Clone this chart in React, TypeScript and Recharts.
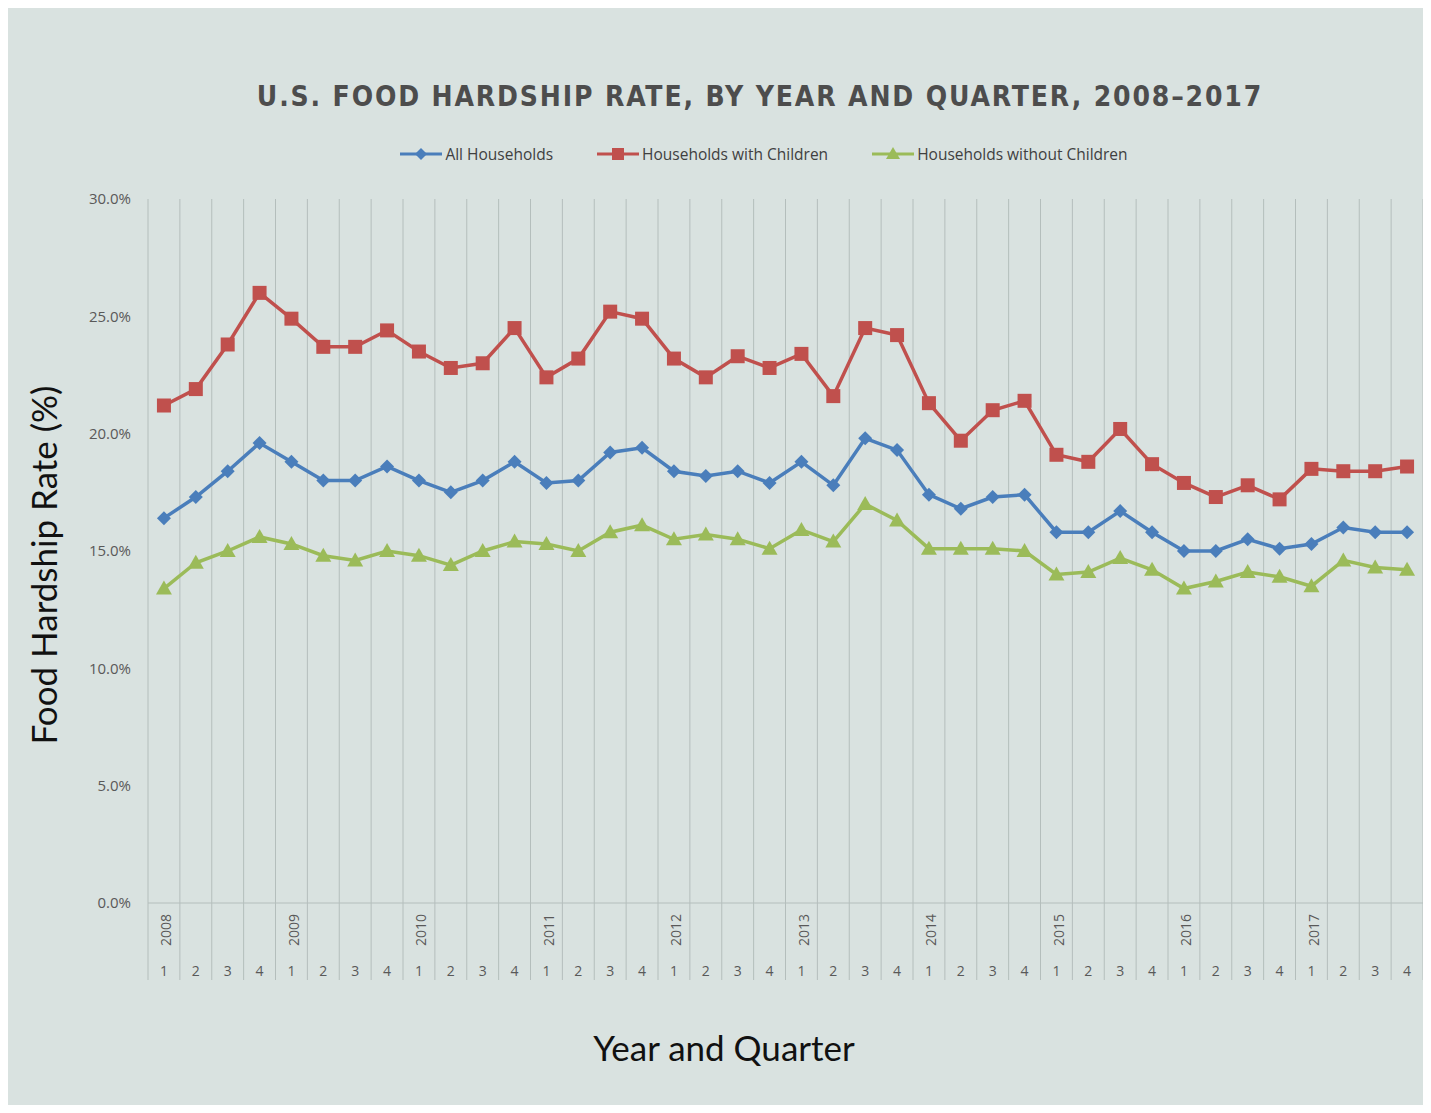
import { ComposedChart, Line, XAxis, YAxis, CartesianGrid } from 'recharts'

const YEARS = ['2008', '2009', '2010', '2011', '2012', '2013', '2014', '2015', '2016', '2017']
const QUARTERS = ['1', '2', '3', '4']

// food hardship rate in %, one value per quarter 2008 Q1 .. 2017 Q4
const ALL_HOUSEHOLDS = [
  16.4, 17.3, 18.4, 19.6,
  18.8, 18.0, 18.0, 18.6,
  18.0, 17.5, 18.0, 18.8,
  17.9, 18.0, 19.2, 19.4,
  18.4, 18.2, 18.4, 17.9,
  18.8, 17.8, 19.8, 19.3,
  17.4, 16.8, 17.3, 17.4,
  15.8, 15.8, 16.7, 15.8,
  15.0, 15.0, 15.5, 15.1,
  15.3, 16.0, 15.8, 15.8,
]
const WITH_CHILDREN = [
  21.2, 21.9, 23.8, 26.0,
  24.9, 23.7, 23.7, 24.4,
  23.5, 22.8, 23.0, 24.5,
  22.4, 23.2, 25.2, 24.9,
  23.2, 22.4, 23.3, 22.8,
  23.4, 21.6, 24.5, 24.2,
  21.3, 19.7, 21.0, 21.4,
  19.1, 18.8, 20.2, 18.7,
  17.9, 17.3, 17.8, 17.2,
  18.5, 18.4, 18.4, 18.6,
]
const WITHOUT_CHILDREN = [
  13.4, 14.5, 15.0, 15.6,
  15.3, 14.8, 14.6, 15.0,
  14.8, 14.4, 15.0, 15.4,
  15.3, 15.0, 15.8, 16.1,
  15.5, 15.7, 15.5, 15.1,
  15.9, 15.4, 17.0, 16.3,
  15.1, 15.1, 15.1, 15.0,
  14.0, 14.1, 14.7, 14.2,
  13.4, 13.7, 14.1, 13.9,
  13.5, 14.6, 14.3, 14.2,
]
const Y_TICKS = [0, 5, 10, 15, 20, 25, 30]

const BLUE = '#4a7ebb'
const RED = '#c0504d'
const GREEN = '#9bbb59'
const GRID = '#b4bebc'
const BG = '#d9e2e0'

const W = 1423
const H = 1105
const MARGIN = { top: 191, right: 8, left: 60, bottom: 120 }
const Y_AXIS_W = 80
const BAND = (W - MARGIN.left - Y_AXIS_W - MARGIN.right) / (YEARS.length * QUARTERS.length)

const data = YEARS.flatMap((year, yi) =>
  QUARTERS.map((quarter, qi) => {
    const i = yi * 4 + qi
    return {
      key: `${year}-${quarter}`,
      year,
      quarter,
      all: ALL_HOUSEHOLDS[i],
      withKids: WITH_CHILDREN[i],
      withoutKids: WITHOUT_CHILDREN[i],
    }
  })
)

const tickFont = "'Open Sans', sans-serif"

function Diamond(p: any) {
  const { cx, cy, index } = p
  if (cx == null || cy == null) return <g key={index} />
  const r = 7
  return <path key={index} d={`M${cx},${cy - r}L${cx + r},${cy}L${cx},${cy + r}L${cx - r},${cy}Z`} fill={BLUE} />
}

function Square(p: any) {
  const { cx, cy, index } = p
  if (cx == null || cy == null) return <g key={index} />
  const s = 7
  return <rect key={index} x={cx - s} y={cy - s} width={s * 2} height={s * 2} fill={RED} />
}

function Triangle(p: any) {
  const { cx, cy, index } = p
  if (cx == null || cy == null) return <g key={index} />
  return <path key={index} d={`M${cx},${cy - 8}L${cx + 8},${cy + 6}L${cx - 8},${cy + 6}Z`} fill={GREEN} />
}

function QuarterTick(props: any) {
  const { x, y, index } = props
  const d = data[index]
  if (!d) return null
  const half = BAND / 2
  return (
    <g>
      <line x1={x - half} y1={y} x2={x - half} y2={y + 77} stroke={GRID} />
      {index === data.length - 1 && <line x1={x + half} y1={y} x2={x + half} y2={y + 77} stroke={GRID} />}
      {d.quarter === '1' && (
        <text
          transform={`translate(${x + 2},${y + 27}) rotate(-90)`}
          textAnchor="middle"
          dominantBaseline="central"
          fill="#595959"
          fontSize={14}
          fontFamily={tickFont}
        >
          {d.year}
        </text>
      )}
      <text x={x} y={y + 73} textAnchor="middle" fill="#595959" fontSize={14} fontFamily={tickFont}>
        {d.quarter}
      </text>
    </g>
  )
}

function LegendItem({ color, label, marker }: { color: string; label: string; marker: 'diamond' | 'square' | 'triangle' }) {
  return (
    <div style={{ display: 'flex', alignItems: 'center', gap: 3 }}>
      <svg width={42} height={16}>
        <line x1={0} y1={8} x2={42} y2={8} stroke={color} strokeWidth={3} />
        {marker === 'diamond' && <path d="M21,2L27,8L21,14L15,8Z" fill={color} />}
        {marker === 'square' && <rect x={15} y={2} width={12} height={12} fill={color} />}
        {marker === 'triangle' && <path d="M21,1L28,13L14,13Z" fill={color} />}
      </svg>
      <span>{label}</span>
    </div>
  )
}

export default function App() {
  return (
    <div style={{ position: 'relative', width: W, height: H, background: BG, marginBottom: -8 }}>
      <div
        style={{
          position: 'absolute', left: 152, width: 1200, top: 72, textAlign: 'center',
          fontFamily: "'Liberation Sans Narrow', 'DejaVu Sans Condensed', sans-serif",
          fontWeight: 700, fontSize: 28, letterSpacing: 1.85, color: '#4d4d4d',
        }}
      >
        U.S. FOOD HARDSHIP RATE, BY YEAR AND QUARTER, 2008–2017
      </div>

      <div
        style={{
          position: 'absolute', left: 156, width: 1200, top: 135, display: 'flex', justifyContent: 'center',
          gap: 44, fontFamily: tickFont, fontSize: 15.5, color: '#404040',
        }}
      >
        <LegendItem color={BLUE} label="All Households" marker="diamond" />
        <LegendItem color={RED} label="Households with Children" marker="square" />
        <LegendItem color={GREEN} label="Households without Children" marker="triangle" />
      </div>

      <ComposedChart width={W} height={H} data={data} margin={MARGIN}>
        <CartesianGrid
          horizontal={false}
          stroke={GRID}
          verticalCoordinatesGenerator={({ offset }: any) =>
            Array.from({ length: data.length + 1 }, (_, i) => offset.left + (i * offset.width) / data.length)
          }
        />
        <XAxis
          dataKey="key"
          interval={0}
          height={90}
          padding={{ left: BAND / 2, right: BAND / 2 }}
          tickSize={0}
          tickMargin={0}
          tickLine={false}
          axisLine={{ stroke: GRID }}
          tick={<QuarterTick />}
        />
        <YAxis
          width={Y_AXIS_W}
          domain={[0, 30]}
          ticks={Y_TICKS}
          tickFormatter={(v: number) => `${v.toFixed(1)}%`}
          tickSize={0}
          tickMargin={17}
          tickLine={false}
          axisLine={false}
          tick={{ fill: '#595959', fontSize: 15, fontFamily: tickFont }}
        />
        <Line dataKey="all" stroke={BLUE} strokeWidth={3.5} dot={Diamond} activeDot={false} isAnimationActive={false} />
        <Line dataKey="withKids" stroke={RED} strokeWidth={3.5} dot={Square} activeDot={false} isAnimationActive={false} />
        <Line dataKey="withoutKids" stroke={GREEN} strokeWidth={3.5} dot={Triangle} activeDot={false} isAnimationActive={false} />
      </ComposedChart>

      <div style={{ position: 'absolute', left: 35, top: 557, width: 0, height: 0 }}>
        <div
          style={{
            position: 'absolute', left: 0, top: 0, transform: 'translate(-50%, -50%) rotate(-90deg)',
            whiteSpace: 'nowrap', fontFamily: 'Lato, sans-serif', fontSize: 35, color: '#111',
          }}
        >
          Food Hardship Rate (%)
        </div>
      </div>

      <div
        style={{
          position: 'absolute', left: 116, width: 1200, top: 1018, textAlign: 'center',
          fontFamily: 'Lato, sans-serif', fontSize: 35, color: '#111',
        }}
      >
        Year and Quarter
      </div>
    </div>
  )
}
